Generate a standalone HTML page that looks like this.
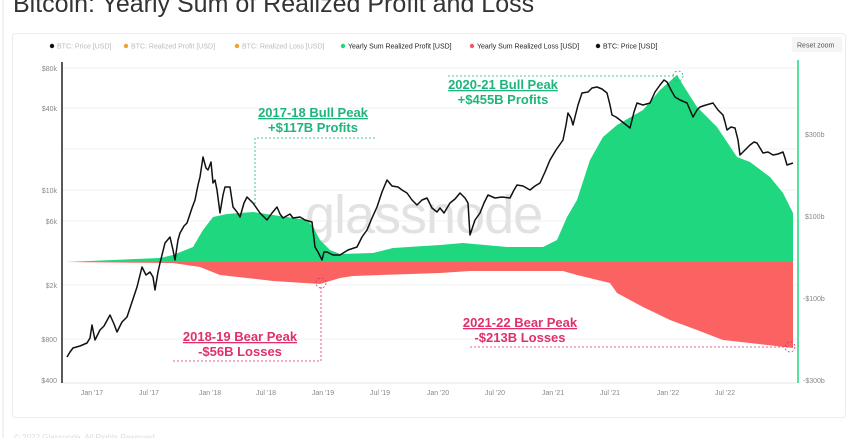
<!DOCTYPE html>
<html><head><meta charset="utf-8"><style>
body{margin:0;background:#fff;width:865px;height:438px;overflow:hidden;font-family:"Liberation Sans",sans-serif;}
</style></head><body>
<svg width="865" height="438" xmlns="http://www.w3.org/2000/svg" style="position:absolute;left:0;top:0">
<line x1="3" y1="0" x2="3" y2="438" stroke="#e4e4e4"/>
<text x="13" y="12" font-size="25" fill="#333">Bitcoin: Yearly Sum of Realized Profit and Loss</text>
<rect x="12.5" y="33.5" width="833" height="384" rx="3" fill="#fff" stroke="#ececec"/>
<g font-size="7" font-family="Liberation Sans,sans-serif">
<circle cx="52" cy="46" r="2.2" fill="#111"/><text x="57" y="48.5" fill="#bbb">BTC: Price [USD]</text>
<circle cx="126" cy="46" r="2.2" fill="#f0a030"/><text x="131" y="48.5" fill="#bbb">BTC: Realized Profit [USD]</text>
<circle cx="237" cy="46" r="2.2" fill="#f0a030"/><text x="242" y="48.5" fill="#bbb">BTC: Realized Loss [USD]</text>
<circle cx="343" cy="46" r="2.2" fill="#1ed77f"/><text x="348" y="48.5" fill="#222">Yearly Sum Realized Profit [USD]</text>
<circle cx="472" cy="46" r="2.2" fill="#f05a6a"/><text x="477" y="48.5" fill="#222">Yearly Sum Realized Loss [USD]</text>
<circle cx="598" cy="46" r="2.2" fill="#111"/><text x="603" y="48.5" fill="#222">BTC: Price [USD]</text>
<rect x="792" y="37" width="50" height="15" fill="#f5f5f5"/><text x="797" y="47.5" fill="#555">Reset zoom</text>
</g>
<g stroke="#f2f2f2">
<line x1="62" y1="68" x2="797" y2="68"/><line x1="62" y1="108" x2="797" y2="108"/><line x1="62" y1="149" x2="797" y2="149"/><line x1="62" y1="190" x2="797" y2="190"/><line x1="62" y1="221" x2="797" y2="221"/><line x1="62" y1="285" x2="797" y2="285"/><line x1="62" y1="339" x2="797" y2="339"/><line x1="62" y1="383" x2="797" y2="383" stroke="#e6e6e6"/>
</g>
<text x="305" y="233" font-size="54" fill="#e2e2e2" letter-spacing="-1">glassnode</text>
<polygon fill="#1ed77f" points="66,262 160,258 173,255 193,247 203,230 213,217 227,214 253,212 273,215 307,220 313,227 320,240 330,250 340,254 373,253 393,248 440,245 463,243 507,247 543,247 557,240 567,217 577,200 590,160 603,137 617,125 643,110 660,90 677,75 683,85 697,107 717,127 737,157 750,162 770,177 783,193 793,213 793,262"/>
<polygon fill="#fb6262" points="66,262 173,263 200,267 220,275 247,278 273,281 320,284 340,278 353,276 440,273 470,271 563,271 577,275 610,283 617,293 643,307 670,320 697,330 723,340 750,343 793,348 793,262"/>
<polyline fill="none" stroke="#111" stroke-width="1.5" stroke-linejoin="round" points="67,357 70,352 73,348 80,346 87,343 90,338 92,325 95,340 100,330 104,326 110,315 114,324 117,332 122,322 127,317 132,302 137,287 142,267 146,275 150,272 153,277 155,290 158,272 160,263 165,243 170,237 173,250 175,260 178,240 180,233 184,226 187,223 192,208 195,200 198,185 200,177 203,157 206,168 208,170 211,162 213,183 215,180 217,190 220,213 223,195 225,187 230,187 233,207 237,212 240,217 244,203 247,197 250,200 253,203 260,213 267,220 272,213 277,207 280,214 283,218 290,214 293,218 300,217 305,220 312,222 315,247 318,252 322,260 324,252 327,252 333,255 340,255 348,250 357,247 362,237 367,230 372,218 377,207 382,192 387,180 392,186 398,187 402,190 407,193 412,200 417,205 422,200 427,198 432,208 437,212 440,208 444,213 450,203 455,199 460,193 465,198 468,203 470,235 475,220 480,213 484,203 488,195 495,198 502,197 510,198 514,190 517,185 523,186 530,190 535,186 540,183 545,172 550,160 556,150 563,140 566,125 568,113 571,118 573,125 578,105 582,93 588,92 592,88 597,87 602,89 607,93 610,105 612,115 616,117 620,120 625,124 630,128 634,112 637,103 643,105 650,103 655,92 660,85 664,80 667,82 671,90 675,97 680,100 687,103 690,110 693,117 697,110 700,107 706,105 713,103 718,110 723,115 725,122 727,130 731,127 735,128 738,140 740,155 745,150 750,145 754,142 757,143 760,148 763,153 768,152 773,155 778,154 783,152 785,158 787,165 790,164 793,163"/>
<line x1="62" y1="62" x2="62" y2="383" stroke="#222" stroke-width="1.5"/>
<line x1="798" y1="60" x2="798" y2="383" stroke="#1ed77f" stroke-width="1.5"/>
<g font-size="7" fill="#888">
<text x="57" y="71" text-anchor="end">$80k</text><text x="57" y="111" text-anchor="end">$40k</text><text x="57" y="193" text-anchor="end">$10k</text><text x="57" y="224" text-anchor="end">$6k</text><text x="57" y="288" text-anchor="end">$2k</text><text x="57" y="342" text-anchor="end">$800</text><text x="57" y="383" text-anchor="end">$400</text>
<text x="805" y="137">$300b</text><text x="805" y="219">$100b</text><text x="803" y="301">-$100b</text><text x="803" y="383">-$300b</text>
<g text-anchor="middle"><text x="92" y="395">Jan '17</text><text x="149" y="395">Jul '17</text><text x="210" y="395">Jan '18</text><text x="266" y="395">Jul '18</text><text x="323" y="395">Jan '19</text><text x="380" y="395">Jul '19</text><text x="438" y="395">Jan '20</text><text x="495" y="395">Jul '20</text><text x="553" y="395">Jan '21</text><text x="610" y="395">Jul '21</text><text x="668" y="395">Jan '22</text><text x="725" y="395">Jul '22</text></g>
</g>
<g stroke-dasharray="2,2" fill="none" stroke-width="0.8">
<polyline stroke="#1fb57a" points="375,138 255,138 255,205"/>
<polyline stroke="#1fb57a" points="448,76 678,76"/>
<circle stroke="#1fb57a" cx="678" cy="76" r="5"/>
<polyline stroke="#e0306a" points="321,287 321,361 173,361"/>
<circle stroke="#e0306a" cx="321" cy="283" r="5"/>
<polyline stroke="#e0306a" points="470,347 790,347"/>
<circle stroke="#e0306a" cx="790" cy="347" r="5"/>
</g>
<g font-size="13" font-weight="bold" text-anchor="middle" font-family="Liberation Sans,sans-serif">
<text x="313" y="117" fill="#1fb57a" text-decoration="underline">2017-18 Bull Peak</text>
<text x="313" y="132" fill="#1fb57a">+$117B Profits</text>
<text x="503" y="89" fill="#1fb57a" text-decoration="underline">2020-21 Bull Peak</text>
<text x="503" y="104" fill="#1fb57a">+$455B Profits</text>
<text x="240" y="341" fill="#e0306a" text-decoration="underline">2018-19 Bear Peak</text>
<text x="240" y="356" fill="#e0306a">-$56B Losses</text>
<text x="520" y="327" fill="#e0306a" text-decoration="underline">2021-22 Bear Peak</text>
<text x="520" y="342" fill="#e0306a">-$213B Losses</text>
</g>
<text x="14" y="440" font-size="8" fill="#ddd">© 2022 Glassnode. All Rights Reserved.</text>
</svg>
</body></html>
